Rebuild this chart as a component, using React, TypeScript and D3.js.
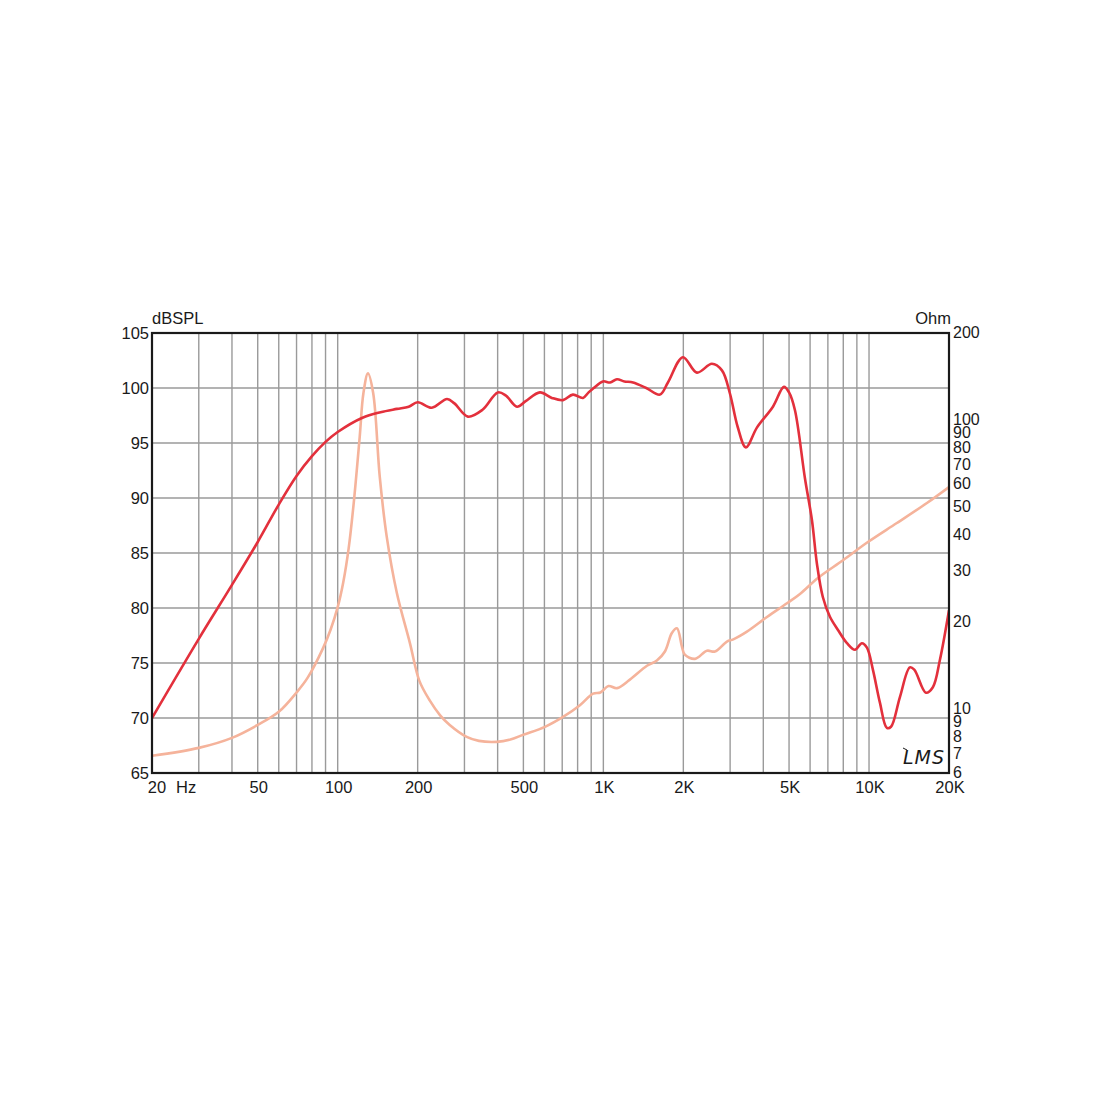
import React from "react";
import * as d3 from "d3";

// SPL response (Hz, dB)
const splFreq = [20, 30, 40, 50, 60, 70, 80, 90, 100, 124, 145, 167, 185, 200, 226, 258, 275, 309, 350, 401, 430, 473, 510, 577, 640, 705, 768, 838, 880, 920, 997, 1060, 1125, 1200, 1293, 1450, 1633, 1750, 1993, 2250, 2562, 2795, 2995, 3200, 3440, 3784, 4348, 4782, 5000, 5260, 5738, 6096, 6368, 6700, 7126, 7640, 8260, 8850, 9400, 9820, 10340, 10990, 11670, 12100, 13070, 14240, 14800, 16370, 17390, 18490, 20000];
const splDb = [70.0, 77.2, 82.1, 86.0, 89.4, 92.0, 93.8, 95.1, 96.0, 97.3, 97.8, 98.1, 98.3, 98.7, 98.2, 99.0, 98.6, 97.4, 98.0, 99.6, 99.3, 98.3, 98.8, 99.6, 99.1, 98.9, 99.4, 99.1, 99.6, 100.0, 100.6, 100.5, 100.8, 100.6, 100.5, 100.0, 99.4, 100.5, 102.8, 101.4, 102.2, 101.6, 99.5, 96.5, 94.6, 96.4, 98.3, 100.1, 99.6, 98.0, 91.8, 88.0, 84.0, 81.0, 79.2, 78.0, 76.8, 76.2, 76.8, 76.4, 74.4, 71.4, 69.1, 69.2, 71.9, 74.6, 74.4, 72.3, 72.8, 75.3, 79.8];

// Impedance (Hz, Ohm)
const impFreq = [20, 30, 40, 50, 60, 70, 77, 88, 94, 100, 105, 110, 115, 121, 125, 130, 136, 144, 153, 167, 187, 203, 222, 243, 264, 306, 340, 397, 450, 498, 603, 705, 816, 915, 975, 1045, 1125, 1255, 1459, 1590, 1705, 1811, 1892, 1977, 2025, 2212, 2455, 2630, 2918, 3085, 3470, 4129, 4910, 5496, 6422, 7980, 9900, 12730, 16520, 20000];
const impOhm = [6.88, 7.33, 7.94, 8.8, 9.77, 11.4, 12.8, 16.2, 18.8, 22.5, 27.5, 36.0, 52.0, 87.3, 124, 145, 124, 63.5, 39.4, 25.2, 16.9, 12.5, 10.7, 9.5, 8.8, 8.0, 7.75, 7.69, 7.85, 8.13, 8.67, 9.38, 10.3, 11.3, 11.4, 12.0, 11.8, 12.6, 14.1, 14.7, 15.8, 18.3, 19.0, 16.4, 15.4, 14.9, 15.9, 15.8, 17.1, 17.4, 18.5, 20.8, 23.2, 25.0, 28.4, 32.7, 37.8, 44.0, 51.6, 58.6];

const xTickVals = [20, 50, 100, 200, 500, 1000, 2000, 5000, 10000, 20000];
const xTickLabels = ["20", "50", "100", "200", "500", "1K", "2K", "5K", "10K", "20K"];
const dbTicks = [65, 70, 75, 80, 85, 90, 95, 100, 105];
const ohmTicks = [200, 100, 90, 80, 70, 60, 50, 40, 30, 20, 10, 9, 8, 7, 6];

const L = 152, R = 949, T = 333, B = 773;

export default function App() {
  const x = d3.scaleLog().domain([20, 20000]).range([L, R]);
  const yL = d3.scaleLinear().domain([65, 105]).range([B, T]);
  const yR = d3.scaleLog().domain([6, 200]).range([B, T]);

  const vGrid: number[] = [];
  for (const dec of [10, 100, 1000, 10000]) {
    for (let m = 1; m <= 9; m++) {
      const f = dec * m;
      if (f > 20 && f < 20000) vGrid.push(f);
    }
  }
  const hGrid = [70, 75, 80, 85, 90, 95, 100];

  const splLine = d3
    .line<number>()
    .x((_, i) => x(splFreq[i]))
    .y((d) => yL(d))
    .curve(d3.curveCatmullRom.alpha(0.5))(splDb) as string;
  const impLine = d3
    .line<number>()
    .x((_, i) => x(impFreq[i]))
    .y((d) => yR(d))
    .curve(d3.curveCatmullRom.alpha(0.5))(impOhm) as string;

  const font = "'Liberation Sans', Arial, sans-serif";

  return (
    <svg width={1100} height={1100} style={{ position: "absolute", left: 0, top: 0, background: "#fff" }}>
      <defs>
        <clipPath id="plot">
          <rect x={L} y={T - 2} width={R - L} height={B - T + 4} />
        </clipPath>
      </defs>
      {vGrid.map((f) => (
        <line key={"v" + f} x1={x(f)} x2={x(f)} y1={T} y2={B} stroke="#9a9a9a" strokeWidth={1.4} />
      ))}
      {hGrid.map((v) => (
        <line key={"h" + v} x1={L} x2={R} y1={yL(v)} y2={yL(v)} stroke="#9a9a9a" strokeWidth={1.4} />
      ))}
      <g clipPath="url(#plot)">
        <path d={impLine} fill="none" stroke="#f5b39b" strokeWidth={2.6} strokeLinejoin="round" />
        <path d={splLine} fill="none" stroke="#e3303c" strokeWidth={2.6} strokeLinejoin="round" />
      </g>
      <rect x={L} y={T} width={R - L} height={B - T} fill="none" stroke="#1a1a1a" strokeWidth={2.2} />

      {dbTicks.map((v) => (
        <text key={"l" + v} x={149} y={yL(v) + 6} textAnchor="end" fontFamily={font} fontSize={16.5} fill="#1a1a1a">
          {v}
        </text>
      ))}
      {ohmTicks.map((v) => (
        <text key={"r" + v} x={953} y={yR(v) + 5} textAnchor="start" fontFamily={font} fontSize={16} fill="#1a1a1a">
          {v}
        </text>
      ))}
      {xTickVals.map((f, i) => (
        <text
          key={"x" + f}
          x={i === 0 ? 157 : x(f) + 1}
          y={793}
          textAnchor="middle"
          fontFamily={font}
          fontSize={16.5}
          fill="#1a1a1a"
        >
          {xTickLabels[i]}
        </text>
      ))}
      <text x={176} y={793} fontFamily={font} fontSize={16.5} fill="#1a1a1a">Hz</text>
      <text x={152} y={324} fontFamily={font} fontSize={16.5} fill="#1a1a1a">dBSPL</text>
      <text x={951} y={324} textAnchor="end" fontFamily={font} fontSize={16.5} fill="#1a1a1a">Ohm</text>
      <text
        x={903}
        y={764}
        fontFamily="'DejaVu Sans', sans-serif"
        fontStyle="italic"
        fontWeight={200}
        fontSize={19}
        fill="#1a1a1a"
        letterSpacing={1}
      >
        LMS
      </text>
      <line x1={903} y1={748} x2={907} y2={750} stroke="#1a1a1a" strokeWidth={1} />
    </svg>
  );
}
